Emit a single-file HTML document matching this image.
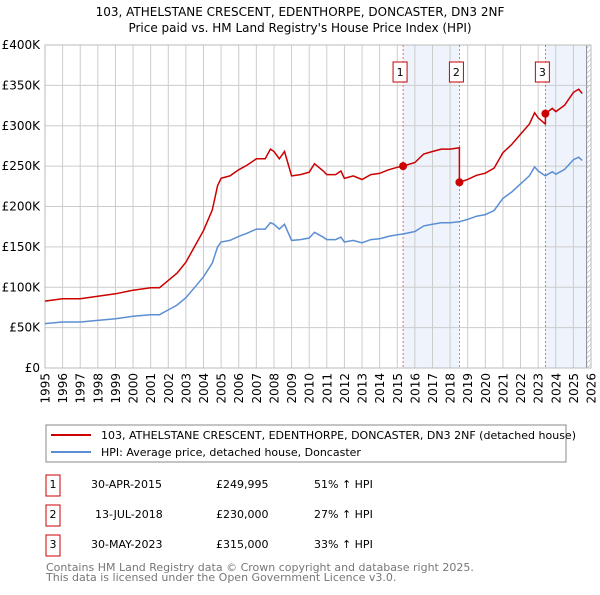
<!DOCTYPE html>
<html><head><meta charset="utf-8"><style>
body{margin:0;background:#fff;font-family:"Liberation Sans","DejaVu Sans",sans-serif;}
svg text{font-family:"DejaVu Sans","Liberation Sans",sans-serif;}
</style></head><body>
<svg id="c" width="600" height="590" xmlns="http://www.w3.org/2000/svg">
<text x="300" y="16" text-anchor="middle" font-size="12">103, ATHELSTANE CRESCENT, EDENTHORPE, DONCASTER, DN3 2NF</text>
<text x="300" y="32" text-anchor="middle" font-size="12">Price paid vs. HM Land Registry's House Price Index (HPI)</text>
<g id="plot"></g>
<rect x="46" y="425" width="520" height="37" fill="#fff" stroke="#888"/>
<line x1="51" y1="435" x2="91" y2="435" stroke="#cc0000" stroke-width="2"/>
<text x="101" y="439" font-size="11">103, ATHELSTANE CRESCENT, EDENTHORPE, DONCASTER, DN3 2NF (detached house)</text>
<line x1="51" y1="452" x2="91" y2="452" stroke="#5b8fd4" stroke-width="2"/>
<text x="101" y="456" font-size="11">HPI: Average price, detached house, Doncaster</text>
<g id="tbl" font-size="11"></g>
<text x="46" y="571" font-size="11" fill="#777">Contains HM Land Registry data © Crown copyright and database right 2025.</text>
<text x="46" y="581" font-size="11" fill="#777">This data is licensed under the Open Government Licence v3.0.</text>
</svg>
<script>
const hpiYears=[1995,1996,1997,1998,1999,2000,2001,2001.5,2002,2002.5,2003,2003.5,2004,2004.5,2004.8,2005,2005.5,2006,2006.5,2007,2007.5,2007.8,2008,2008.3,2008.6,2009,2009.5,2010,2010.3,2010.8,2011,2011.5,2011.8,2012,2012.5,2013,2013.5,2014,2014.5,2015,2015.33,2016,2016.5,2017,2017.5,2018,2018.5,2019,2019.5,2020,2020.5,2021,2021.5,2022,2022.5,2022.8,2023,2023.4,2023.8,2024,2024.5,2025,2025.3,2025.5];
const hpiValues=[55,57,57,59,61,64,66,66,72,78,87,100,113,130,150,156,158,163,167,172,172,180,178,172,178,158,159,161,168,162,159,159,162,156,158,155,159,160,163,165,166,169,176,178,180,180,181,184,188,190,195,210,218,228,238,249,244,238,243,240,246,258,261,257];
const saleLabels=["1","2","3"];
const saleYears=[2015.33,2018.53,2023.41];
const salePrices=[249995,230000,315000];
const saleDates=["30-APR-2015","13-JUL-2018","30-MAY-2023"];
const salePriceText=["£249,995","£230,000","£315,000"];
const salePct=["51% ↑ HPI","27% ↑ HPI","33% ↑ HPI"];
const yTicks=[0,50,100,150,200,250,300,350,400];
const yTickLabels=["£0","£50K","£100K","£150K","£200K","£250K","£300K","£350K","£400K"];
const xTicks=[1995,1996,1997,1998,1999,2000,2001,2002,2003,2004,2005,2006,2007,2008,2009,2010,2011,2012,2013,2014,2015,2016,2017,2018,2019,2020,2021,2022,2023,2024,2025,2026];

const L=45,R=591,T=45,B=368;
const X=y=>L+(y-1995)/(2026-1995)*(R-L);
const Y=v=>B-v/400*(B-T);
const NS="http://www.w3.org/2000/svg";
const plot=document.getElementById('plot');
function mk(tag,attrs,parent){const e=document.createElementNS(NS,tag);for(const k in attrs)e.setAttribute(k,attrs[k]);(parent||plot).appendChild(e);return e;}
function hpiAt(t){for(let i=0;i<hpiYears.length-1;i++){if(t<=hpiYears[i+1]){const f=(t-hpiYears[i])/(hpiYears[i+1]-hpiYears[i]);return hpiValues[i]+f*(hpiValues[i+1]-hpiValues[i]);}}return hpiValues[hpiValues.length-1];}
const HATCH=2025.75;
let e;
e=mk('rect',{x:X(saleYears[0]),y:T,width:X(saleYears[1])-X(saleYears[0]),height:B-T,fill:'#eef3fc'});


e=mk('rect',{x:X(saleYears[2]),y:T,width:X(HATCH)-X(saleYears[2]),height:B-T,fill:'#eef3fc'});


xTicks.forEach(t=>{
 e=mk('line',{x1:X(t),x2:X(t),y1:T,y2:B,stroke:'#ccc','stroke-width':1});
 
 
 e=mk('text',{x:0,y:0,'text-anchor':'end','font-size':12,transform:`translate(${X(t)+4.5},${B+5}) rotate(-90)`});
 e.textContent=t;
 
 
});
yTicks.forEach((t,i)=>{
 e=mk('line',{x1:L,x2:R,y1:Y(t),y2:Y(t),stroke:'#ccc','stroke-width':1});
 
 
 e=mk('text',{x:L-5,y:Y(t)+4,'text-anchor':'end','font-size':12});
 e.textContent=yTickLabels[i];
 
 
});
const defs=mk('defs',{});
const pat=mk('pattern',{id:'h',width:5,height:5,patternUnits:'userSpaceOnUse'},defs);
mk('path',{d:'M0,5 L5,0',stroke:'#bbb','stroke-width':0.7},pat);
e=mk('rect',{x:X(HATCH),y:T,width:R-X(HATCH),height:B-T,fill:'url(#h)'});


e=mk('line',{x1:X(HATCH),x2:X(HATCH),y1:T,y2:B,stroke:'#889'});


e=mk('rect',{x:L,y:T,width:R-L,height:B-T,fill:'none',stroke:'#bbb'});


saleYears.forEach((s,i)=>{
 e=mk('line',{x1:X(s),x2:X(s),y1:T,y2:B,stroke:'#e05050','stroke-width':0.8,'stroke-dasharray':'2,2'});
 
 
 e=mk('rect',{x:X(s)-10,y:62,width:14,height:20,fill:'#fff',stroke:'#cc0000'});
 
 
 e=mk('text',{x:X(s)-3,y:76,'text-anchor':'middle','font-size':11});
 e.textContent=saleLabels[i];
 
 
});
const hp=hpiYears.map((t,i)=>X(t).toFixed(1)+','+Y(hpiValues[i]).toFixed(1)).join(' ');
e=mk('polyline',{points:hp,fill:'none',stroke:'#5b8fd4','stroke-width':1.5});


function ratioAt(t){let r=salePrices[0]/1000/hpiAt(saleYears[0]);for(let i=1;i<saleYears.length;i++)if(t>=saleYears[i])r=salePrices[i]/1000/hpiAt(saleYears[i]);return r;}
let times=[...hpiYears];saleYears.forEach(s=>{times.push(s-0.001);times.push(s);});times.sort((a,b)=>a-b);
const rp=times.map(t=>X(t).toFixed(1)+','+Y(hpiAt(t)*ratioAt(t)).toFixed(1)).join(' ');
e=mk('polyline',{points:rp,fill:'none',stroke:'#cc0000','stroke-width':1.5});


saleYears.forEach((s,i)=>{
 e=mk('circle',{cx:X(s),cy:Y(salePrices[i]/1000),r:4,fill:'#cc0000'});
 
 
});
const tbl=document.getElementById('tbl');
saleLabels.forEach((l,i)=>{
 const y=487+i*30;
 e=mk('rect',{x:46,y:y-12,width:14,height:21,fill:'#fff',stroke:'#cc0000'},tbl);
 
 
 e=mk('text',{x:53,y:y+1,'text-anchor':'middle'},tbl);e.textContent=l;
 
 
 e=mk('text',{x:91+(i==1?4:0),y:y+1},tbl);e.textContent=saleDates[i];
 
 
 e=mk('text',{x:216,y:y+1},tbl);e.textContent=salePriceText[i];
 
 
 e=mk('text',{x:314,y:y+1},tbl);e.textContent=salePct[i];
 
 
});
</script>
</body></html>
